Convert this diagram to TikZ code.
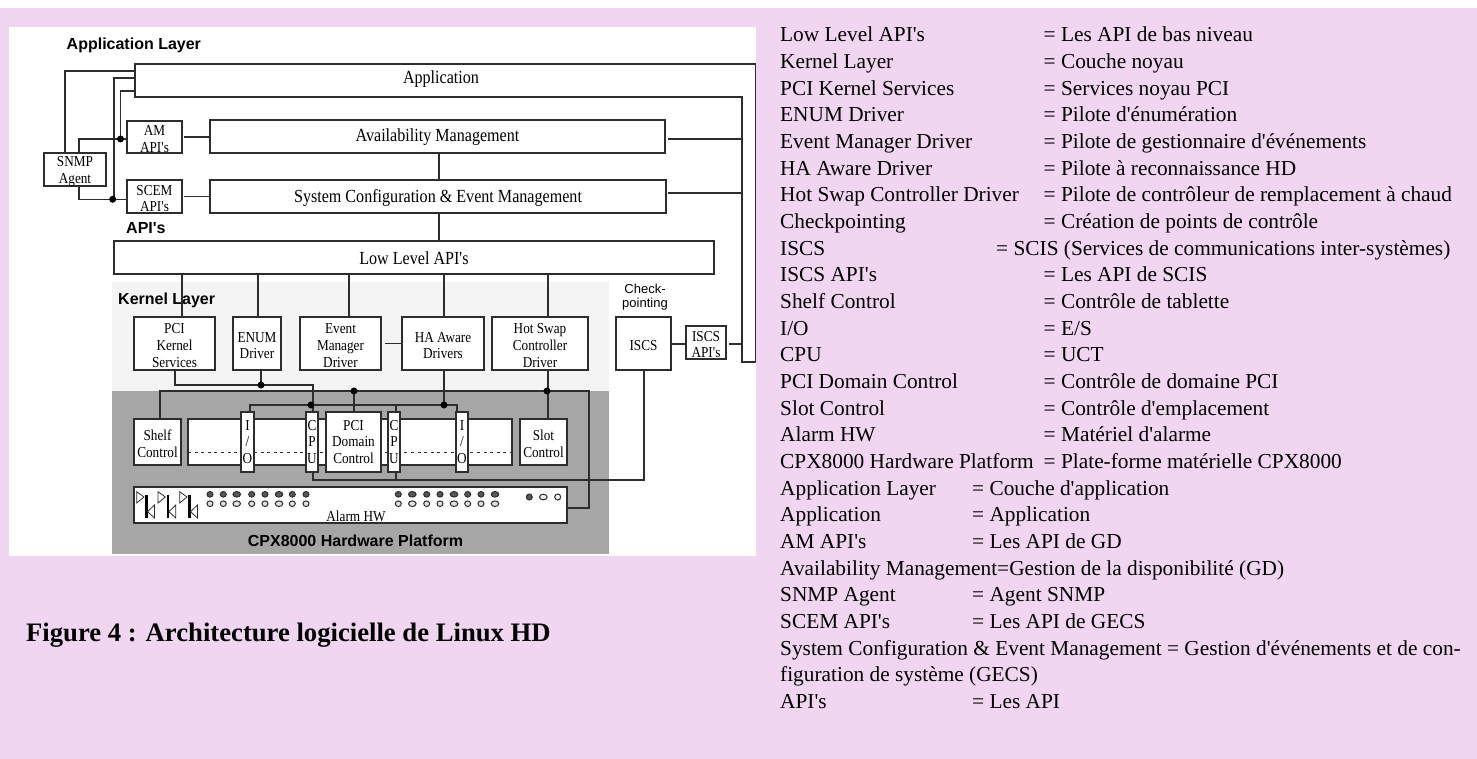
\documentclass[tikz,border=0pt]{standalone}
\usepackage{fontspec}
\newfontfamily\txtf{Liberation Serif}
\newfontfamily\dgf[FakeStretch=0.87]{Liberation Serif}
\newfontfamily\hdf{Liberation Sans}
\definecolor{pagepink}{RGB}{241,214,241}
\definecolor{hwgray}{RGB}{166,166,166}
\definecolor{kerngray}{RGB}{244,244,244}
\definecolor{ink}{RGB}{45,45,45}
\tikzset{
  bx/.style={draw=ink,line width=1.3pt,fill=white,inner sep=0pt,outer sep=0pt},
  big/.style={font=\dgf\fontsize{18.5}{21}\selectfont,yshift=-1pt},
  small/.style={font=\dgf\fontsize{15.2}{16.7}\selectfont,yshift=-2pt},
  stack/.style={font=\dgf\fontsize{15.2}{16.7}\selectfont},
  boxtext/.style={inner sep=0pt,align=center,text=black},
  head/.style={font=\hdf\bfseries\fontsize{16}{18}\selectfont,inner sep=0pt,anchor=center},
  wire/.style={draw=ink,line width=1.3pt},
  junction/.style={circle,fill=black,inner sep=0pt,minimum size=7pt},
  row/.style={font=\txtf\fontsize{21.33}{26}\selectfont,inner sep=0pt,anchor=base west,text=black},
  lamp/.style={draw=ink,line width=1pt},
}
\newcommand\bx[7][big]{%
  \pgfmathsetmacro\cx{(#3+#5)/2}\pgfmathsetmacro\cy{(#4+#6)/2}%
  \pgfmathsetmacro\bw{#5-#3}\pgfmathsetmacro\bh{#6-#4}%
  \node[bx,minimum width=\bw pt,minimum height=\bh pt] (#2) at (\cx,\cy) {};
  \node[boxtext,#1] (#2-t) at (\cx,\cy) {#7};}
\newcommand\rw[4]{%
  \pgfmathsetmacro\by{41.7+(#1-1)*26.67}%
  \node[row] (l#1) at (780,\by) {#2};
  \node[row] (r#1) at (#3,\by) {#4};}
\newcommand\rs[2]{%
  \pgfmathsetmacro\by{41.7+(#1-1)*26.67}%
  \node[row] (l#1) at (780,\by) {#2};}
\begin{document}
\begin{tikzpicture}[x=1pt,y=-1pt]
\useasboundingbox (0,0) rectangle (1477,759);
\fill[white] (0,0) rectangle (1477,8);
\fill[pagepink] (0,8) rectangle (1477,759);
\fill[white] (9,27) rectangle (756,556);
\fill[kerngray] (112,282) rectangle (609,391);
\fill[hwgray] (112,391) rectangle (609,554);

% application box with its right strip
\node[inner sep=0pt,minimum width=620pt,minimum height=33pt,outer sep=0pt] (app) at (445,80.5) {};
\draw[bx] (app.north west) -- (755.5,64) -- (755.5,362) -- (742,362) -- (742,97) -- (app.south west) -- cycle;
\node[boxtext,big] (apptext) at (441,78) {Application};

\bx{avail}{210}{120}{665}{153}{Availability Management}
\bx{sysconf}{210}{180}{666}{213}{System Configuration \& Event Management}
\bx{lowlevel}{114}{241}{714}{274}{Low Level API's}
\bx[small]{am}{127}{121}{182}{153}{AM\\API's}
\bx[small]{scem}{127}{180}{182}{213}{SCEM\\API's}
\bx[small]{snmp}{44}{153}{106}{186}{SNMP\\Agent}

\bx[small]{pcik}{134}{317}{215}{370}{PCI\\Kernel\\Services}
\bx[small]{enum}{233}{317}{281}{370}{ENUM\\Driver}
\bx[small]{event}{300}{317}{381}{370}{Event\\Manager\\Driver}
\bx[small]{haaware}{402}{317}{484}{370}{HA Aware\\Drivers}
\bx[small]{hotswap}{492}{317}{588}{370}{Hot Swap\\Controller\\Driver}
\bx[small]{iscs}{616}{317}{671}{370}{ISCS}
\bx[small]{iscsapi}{686}{326}{726}{359}{ISCS\\API's}

\bx[small]{shelf}{134}{419}{181}{465}{Shelf\\Control}
\bx[small]{slot}{520}{419}{567}{465}{Slot\\Control}
\node[bx,minimum width=142pt,minimum height=46pt] (leftbay) at (259,442) {};
\node[bx,minimum width=134pt,minimum height=46pt] (rightbay) at (445,442) {};
\draw[draw=ink,line width=1pt,dash pattern=on 3pt off 3.6pt] (leftbay.west |- 0,452) -- (leftbay.east |- 0,452);
\draw[draw=ink,line width=1pt,dash pattern=on 3pt off 3.6pt] (rightbay.west |- 0,452) -- (rightbay.east |- 0,452);
\bx[stack]{iol}{241}{412}{254}{472}{I\\/\\O}
\bx[stack]{cpul}{306}{412}{318}{472}{C\\P\\U}
\bx[stack]{pcid}{326}{412}{381}{472}{PCI\\Domain\\Control}
\bx[stack]{cpur}{388}{412}{400}{472}{C\\P\\U}
\bx[stack]{ior}{456}{412}{468}{472}{I\\/\\O}
\node[bx,minimum width=433pt,minimum height=36pt] (alarm) at (350.5,505) {};
\node[boxtext,small] (alarmtext) at (356,514.5) {Alarm HW};

% headings
\node[head,anchor=west] (hApp) at (66.5,45.5) {Application Layer};
\node[head,anchor=west] (hApi) at (126,228) {API's};
\node[head,anchor=west] (hKern) at (118,300) {Kernel Layer};
\node[head] (hCpx) at (355.5,541) {CPX8000 Hardware Platform};
\node[font=\hdf\fontsize{13}{14}\selectfont,align=center,inner sep=0pt] (hCheck) at (645,297) {Check-\\pointing};

% junction anchors
\coordinate (a1) at (65,71);
\coordinate (a2) at (114,78);
\coordinate (a3) at (120.5,91);
\coordinate (s1) at (79,139);
\coordinate (s2) at (79,199.5);
\coordinate (busK) at (261,385);
\coordinate (bus1) at (354,391);
\coordinate (bus2) at (547,391);
\coordinate (bus3) at (311,405);
\coordinate (bus4) at (444,405);
\coordinate (low) at (644,480);
\coordinate (cpuRX) at (396,405);
\coordinate (ioLX) at (250,405);
\coordinate (ioRX) at (457,405);
\coordinate (rail1) at (742,139);
\coordinate (rail2) at (742,193);
\coordinate (rail3) at (742,344);

% left side wiring
\draw[wire] (a1 |- snmp.north) -- (a1) -- (a1 -| app.west);
\draw[wire] (a2 |- s2) -- (a2) -- (a2 -| app.west);
\draw[wire] (a3 |- s1) -- (a3) -- (a3 -| app.west);
\draw[wire] (s1 |- snmp.north) -- (s1) -- (s1 -| am.west);
\draw[wire] (s2 |- snmp.south) -- (s2) -- (s2 -| scem.west);
\node[junction] (d1) at (a3 |- s1) {};
\node[junction] (d2) at (112.7,199.3) {};

\draw[wire] ([xshift=2pt]am.east) -- (avail.west |- am.east);
\draw[wire] ([xshift=2pt]scem.east) -- (sysconf.west |- scem.east);
\coordinate (v1) at (439,153);
\draw[wire] (v1) -- (v1 |- sysconf.north);
\draw[wire] (v1 |- sysconf.south) -- (v1 |- lowlevel.north);
\draw[wire] ([xshift=3pt]avail.east |- rail1) -- (rail1);
\draw[wire] ([xshift=2pt]sysconf.east |- rail2) -- (rail2);

% low level to kernel
\draw[wire] (lowlevel.south -| 182,0) -- (pcik.north -| 182,0);
\draw[wire] (lowlevel.south -| 258,0) -- (enum.north -| 258,0);
\draw[wire] (lowlevel.south -| 349,0) -- (event.north -| 349,0);
\draw[wire] (lowlevel.south -| 444,0) -- (haaware.north -| 444,0);
\draw[wire] (lowlevel.south -| 548,0) -- (hotswap.north -| 548,0);
\draw[wire] ([xshift=4pt]event.east) -- (haaware.west);
\draw[wire] (iscs.east |- rail3) -- (iscsapi.west |- rail3);
\draw[wire] ([xshift=3pt]iscsapi.east |- rail3) -- (rail3);

% kernel to hardware
\draw[wire] (pcik.south -| 175,0) |- (busK) -| (cpul.north -| 313,0);
\draw[wire] (enum.south -| busK) -- (busK);
\coordinate (v2) at (589,391);
\draw[wire] (shelf.north -| 160,0) |- (bus1) -- (v2) -- (v2 |- 0,508) -- (alarm.east |- 0,508);
\draw[wire] (bus1) -- (bus1 |- pcid.north);
\draw[wire] (hotswap.south -| 548,0) -- (slot.north -| 548,0);
\draw[wire] (haaware.south -| bus4) -- (bus4);
\draw[wire] (iol.north -| ioLX) |- (ioRX) -- (ior.north -| ioRX);
\draw[wire] (cpuRX) -- (cpur.north -| cpuRX);
\draw[wire] (cpul.south -| 313,0) |- (low) -- (iscs.south -| low);
\draw[wire] (cpur.south -| cpuRX) -- (cpuRX |- low);
\node[junction] (d3) at (busK) {};
\node[junction] (d4) at (bus1) {};
\node[junction] (d5) at (bus2) {};
\node[junction] (d6) at (bus3) {};
\node[junction] (d7) at (bus4) {};

% alarm panel symbols
\foreach \dx in {0,21.3,43}{
  \draw[draw=ink,line width=.8pt] (136.7+\dx,491.7) -- (136.7+\dx,503) -- (144+\dx,497) -- cycle;
  \draw[draw=black,line width=2.2pt] (146.5+\dx,495) -- (146.5+\dx,518);
  \draw[draw=ink,line width=.8pt] (154.5+\dx,505) -- (154.5+\dx,518) -- (147.5+\dx,511.7) -- cycle;
}
\foreach \x/\r in {210/3,223.3/3,236.7/3.8,251.7/3,265/3,279/3.8,292.3/3,306/3,398.3/3,412.3/3.8,426.7/3,440/3,454/3.8,467.7/3,481/3,495/3.8}{
  \draw[lamp,fill=ink!80] (\x,494.3) ellipse [x radius=\r,y radius=2.8];
  \draw[lamp,fill=black!12] (\x,503.7) ellipse [x radius=\r,y radius=2.8];
}
\draw[lamp,fill=ink!80] (529.3,497) circle [radius=3];
\draw[lamp,fill=black!6] (543.3,497) ellipse [x radius=3.8,y radius=2.8];
\draw[lamp,fill=black!6] (557.7,497) circle [radius=3];

% caption
\node[font=\txtf\bfseries\fontsize{26.67}{30}\selectfont,inner sep=0pt,anchor=base west] (caption) at (26,641.7) {Figure 4 : Architecture logicielle de Linux HD};

% glossary
\rw{1}{Low Level API's}{1043.5}{= Les API de bas niveau}
\rw{2}{Kernel Layer}{1043.5}{= Couche noyau}
\rw{3}{PCI Kernel Services}{1043.5}{= Services noyau PCI}
\rw{4}{ENUM Driver}{1043.5}{= Pilote d'énumération}
\rw{5}{Event Manager Driver}{1043.5}{= Pilote de gestionnaire d'événements}
\rw{6}{HA Aware Driver}{1043.5}{= Pilote à reconnaissance HD}
\rw{7}{Hot Swap Controller Driver}{1043.5}{= Pilote de contrôleur de remplacement à chaud}
\rw{8}{Checkpointing}{1043.5}{= Création de points de contrôle}
\rw{9}{ISCS}{996}{= SCIS (Services de communications inter-systèmes)}
\rw{10}{ISCS API's}{1043.5}{= Les API de SCIS}
\rw{11}{Shelf Control}{1043.5}{= Contrôle de tablette}
\rw{12}{I/O}{1043.5}{= E/S}
\rw{13}{CPU}{1043.5}{= UCT}
\rw{14}{PCI Domain Control}{1043.5}{= Contrôle de domaine PCI}
\rw{15}{Slot Control}{1043.5}{= Contrôle d'emplacement}
\rw{16}{Alarm HW}{1043.5}{= Matériel d'alarme}
\rw{17}{CPX8000 Hardware Platform}{1043.5}{= Plate-forme matérielle CPX8000}
\rw{18}{Application Layer}{972}{= Couche d'application}
\rw{19}{Application}{972}{= Application}
\rw{20}{AM API's}{972}{= Les API de GD}
\rs{21}{Availability Management=Gestion de la disponibilité (GD)}
\rw{22}{SNMP Agent}{972}{= Agent SNMP}
\rw{23}{SCEM API's}{972}{= Les API de GECS}
\rs{24}{System Configuration \& Event Management = Gestion d'événements et de con-}
\rs{25}{figuration de système (GECS)}
\rw{26}{API's}{972}{= Les API}
\end{tikzpicture}
\end{document}
